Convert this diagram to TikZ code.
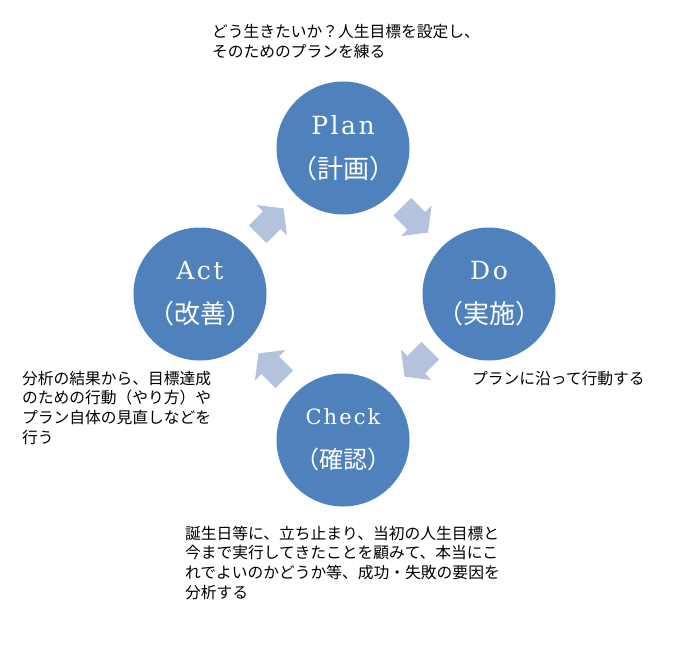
\documentclass[tikz,border=0pt]{standalone}
\usepackage{fontspec}
\setmainfont{DejaVu Serif}
\newfontfamily\cjk{Noto Sans CJK JP}
\newfontfamily\latc[LetterSpace=10]{DejaVu Serif}
\definecolor{circblue}{HTML}{4F81BD}
\definecolor{arrblue}{HTML}{B3C2DD}
\newcommand\cyclearrow[2]{\fill[arrowfill,shift={(#1)},rotate=#2] (-14.5,-12.5) -- (5.4,-12.5) -- (5.4,-21.5) -- (22,0) -- (5.4,21.5) -- (5.4,12.5) -- (-14.5,12.5) -- cycle;}
\begin{document}
\begin{tikzpicture}[x=1bp,y=-1bp,
  phase/.style={circle, fill=circblue, minimum size=133bp, inner sep=0pt, text=white, align=center,
    font=\fontsize{25bp}{44bp}\selectfont},
  note/.style={font=\cjk\fontsize{15.75bp}{19.7bp}\selectfont, inner sep=0pt, anchor=base west},
  arrowfill/.style={fill=arrblue}]
\fill[white] (0,0) rectangle (680,650);
\useasboundingbox (0,0) rectangle (680,650);

\node[phase] (plan)  at (343,148) {{\latc Plan}\\{\cjk\fontsize{26bp}{44bp}\selectfont （計画）}};
\node[phase] (do)    at (489,294) {{\latc Do}\\{\cjk\fontsize{26bp}{44bp}\selectfont （実施）}};
\node[phase] (check) at (343,440) {{\latc\fontsize{21bp}{44bp}\selectfont Check}\\{\cjk\fontsize{24bp}{44bp}\selectfont （確認）}};
\node[phase] (act)   at (200,294) {{\latc Act}\\{\cjk\fontsize{26bp}{44bp}\selectfont （改善）}};

\cyclearrow{268,224}{45}
\cyclearrow{412.5,217}{-45}
\cyclearrow{420,361}{-135}
\cyclearrow{274,369}{135}

\node[note] (nplan) at (212,38) {\begin{tabular}[t]{@{}l@{}}どう生きたいか？人生目標を設定し、\\そのためのプランを練る\end{tabular}};
\node[note] (ndo) at (472,384) {プランに沿って行動する};
\node[note] (nact) at (22,384) {\begin{tabular}[t]{@{}l@{}}分析の結果から、目標達成\\のための行動（やり方）や\\プラン自体の見直しなどを\\行う\end{tabular}};
\node[note] (ncheck) at (185,539) {\begin{tabular}[t]{@{}l@{}}誕生日等に、立ち止まり、当初の人生目標と\\今まで実行してきたことを顧みて、本当にこ\\れでよいのかどうか等、成功・失敗の要因を\\分析する\end{tabular}};
\end{tikzpicture}
\end{document}
